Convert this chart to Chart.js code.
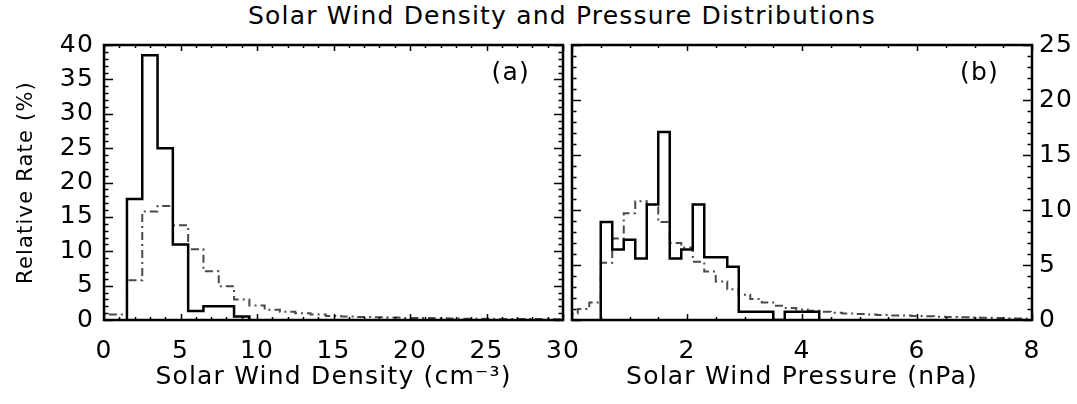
<!DOCTYPE html>
<html>
<head>
<meta charset="utf-8">
<script src="https://cdn.jsdelivr.net/npm/chart.js@4.4.0/dist/chart.umd.min.js"></script>
<style>
body { margin: 0; background: #fff; width: 1077px; height: 404px; position: relative; overflow: hidden; font-family: "DejaVu Sans", sans-serif; }
#title { position: absolute; top: 1px; left: 562px; transform: translateX(-50%); font-size: 25px; letter-spacing: 1.2px; white-space: nowrap; color: #000; }
#c1 { position: absolute; left: 0; top: 0; }
#c2 { position: absolute; left: 567px; top: 0; }
</style>
</head>
<body>
<div id="title">Solar Wind Density and Pressure Distributions</div>
<canvas id="c1" width="600" height="404"></canvas>
<canvas id="c2" width="510" height="404"></canvas>
<script>
// density histogram (a): bin centres, width 1 cm^-3
const densityBinsSolid = [2, 3, 4, 5, 6, 7, 8, 9];
const densitySolid = [17.6, 38.5, 25.0, 11.0, 1.3, 2.0, 2.0, 0.5];
const densityBinsAll = [0, 1, 2, 3, 4, 5, 6, 7, 8, 9, 10, 11, 12, 13, 14, 15, 16, 17, 18, 19, 20,
                        21, 22, 23, 24, 25, 26, 27, 28, 29, 30];
const densityAll = [0.8, 0.8, 5.8, 15.8, 16.6, 13.8, 10.3, 7.1, 4.9, 3.0, 2.1, 1.5, 1.2, 1.0, 0.8, 0.6,
                    0.5, 0.45, 0.4, 0.35, 0.3, 0.28, 0.25, 0.22, 0.2, 0.18, 0.16, 0.15, 0.13, 0.12, 0.1];

// pressure histogram (b): bin centres, width 0.2 nPa
const pressureBinsSolid = [0.6, 0.8, 1.0, 1.2, 1.4, 1.6, 1.8, 2.0, 2.2, 2.4, 2.6, 2.8, 3.0, 3.2, 3.4,
                           3.6, 3.8, 4.0, 4.2];
const pressureSolid = [8.9, 6.4, 7.3, 5.6, 10.5, 17.1, 5.6, 6.4, 10.5, 5.7, 5.7, 4.85, 0.76, 0.76, 0.76,
                       0, 0.76, 0.76, 0.76];
const pressureBinsAll = [0.0, 0.2, 0.4, 0.6, 0.8, 1.0, 1.2, 1.4, 1.6, 1.8, 2.0, 2.2, 2.4, 2.6, 2.8, 3.0,
                         3.2, 3.4, 3.6, 3.8, 4.0, 4.2, 4.4, 4.6, 4.8, 5.0, 5.2, 5.4, 5.6, 5.8, 6.0,
                         6.2, 6.4, 6.6, 6.8, 7.0, 7.2, 7.4, 7.6, 7.8, 8.0];
const pressureAll = [0.6, 1.0, 1.6, 5.2, 7.4, 9.7, 10.8, 10.5, 8.9, 7.0, 6.6, 5.3, 4.4, 3.5, 2.8, 2.3,
                     1.9, 1.6, 1.3, 1.1, 0.95, 0.85, 0.75, 0.65, 0.6, 0.55, 0.5, 0.45, 0.42, 0.4, 0.36,
                     0.33, 0.3, 0.27, 0.25, 0.22, 0.2, 0.18, 0.16, 0.14, 0.12];

// tick labels
const densityTicks = [0, 5, 10, 15, 20, 25, 30];
const rateTicksA = [0, 5, 10, 15, 20, 25, 30, 35, 40];
const pressureTicks = [2, 4, 6, 8];
const rateTicksB = [0, 5, 10, 15, 20, 25];

const FONT = '"DejaVu Sans", sans-serif';

// turn bin centres + values into a step outline
const histPoints = function(centres, values, width) {
    const pts = [{x: centres[0] - width / 2, y: 0}];
    centres.forEach((c, i) => pts.push({x: c + width / 2, y: values[i]}));
    pts.push({x: centres[centres.length - 1] + width / 2, y: 0});
    return pts;
};

// IDL style box with inward ticks on all four sides + panel label
const boxTicks = {
    id: 'boxTicks',
    beforeDraw(chart) {
        chart.ctx.letterSpacing = '1.2px';
    },
    afterDatasetsDraw(chart, args, o) {
        const {ctx, chartArea: a} = chart;
        const x = chart.scales.x, y = chart.scales.y;
        const isMajor = (v, step) => Math.abs(v / step - Math.round(v / step)) < 1e-6;
        ctx.save();
        ctx.strokeStyle = '#000';
        ctx.lineWidth = 1.5;
        ctx.beginPath();
        for (let v = x.min; v <= x.max + 1e-9; v += o.xMinor) {
            const px = Math.round(x.getPixelForValue(v)) + 0.5;
            const len = isMajor(v, o.xMajor) ? 6 : 3;
            ctx.moveTo(px, a.bottom); ctx.lineTo(px, a.bottom - len);
            ctx.moveTo(px, a.top); ctx.lineTo(px, a.top + len);
        }
        for (let v = y.min; v <= y.max + 1e-9; v += o.yMinor) {
            const py = Math.round(y.getPixelForValue(v)) + 0.5;
            const len = isMajor(v, o.yMajor) ? 9 : 4.5;
            ctx.moveTo(a.left, py); ctx.lineTo(a.left + len, py);
            ctx.moveTo(a.right, py); ctx.lineTo(a.right - len, py);
        }
        ctx.stroke();
        ctx.lineWidth = 2.5;
        ctx.strokeRect(a.left, a.top, a.width, a.height);
        ctx.fillStyle = '#000';
        ctx.font = '25px ' + FONT;
        ctx.textAlign = 'right';
        ctx.textBaseline = 'middle';
        ctx.fillText(o.label, a.right - 33, a.top + 28);
        ctx.restore();
    }
};

const makeChart = function(id, cfg) {
    return new Chart(document.getElementById(id), {
        type: 'line',
        data: {
            datasets: [{
                data: histPoints(cfg.binsSolid, cfg.solid, cfg.width),
                borderColor: '#000',
                borderWidth: 2.5,
                stepped: 'after',
                pointRadius: 0,
                fill: false,
            }, {
                data: histPoints(cfg.binsAll, cfg.all, cfg.width),
                borderColor: '#4a4a4a',
                borderWidth: 2,
                borderDash: [8, 4, 2, 4],
                stepped: 'after',
                pointRadius: 0,
                fill: false,
            }]
        },
        options: {
            responsive: false,
            animation: false,
            layout: {padding: cfg.padding},
            plugins: {
                legend: {display: false},
                tooltip: {enabled: false},
                boxTicks: cfg.box,
            },
            scales: {
                x: {
                    type: 'linear',
                    min: cfg.xMin,
                    max: cfg.xMax,
                    afterBuildTicks: s => { s.ticks = cfg.xTicks.map(v => ({value: v})); },
                    afterFit: s => { s.height = 84; s.paddingLeft = 0; s.paddingRight = 0; },
                    grid: {display: false, drawTicks: false},
                    border: {display: false},
                    ticks: {
                        autoSkip: false, maxRotation: 0, padding: 16, color: '#000',
                        font: {family: FONT, size: 25},
                    },
                    title: {
                        display: true, text: cfg.xTitle, color: '#000',
                        font: {family: FONT, size: 25},
                        padding: {top: 0, bottom: 12},
                    },
                },
                y: {
                    type: 'linear',
                    position: cfg.yPos,
                    min: cfg.yMin,
                    max: cfg.yMax,
                    afterBuildTicks: s => { s.ticks = cfg.yTicks.map(v => ({value: v})); },
                    afterFit: s => { s.width = cfg.yWidth; s.paddingTop = 0; s.paddingBottom = 0; },
                    grid: {display: false, drawTicks: false},
                    border: {display: false},
                    ticks: {
                        autoSkip: false, padding: cfg.yPad, color: '#000',
                        font: {family: FONT, size: 25},
                    },
                    title: {
                        display: !!cfg.yTitle, text: cfg.yTitle || '', color: '#000',
                        font: {family: FONT, size: 21},
                        padding: {top: 14, bottom: 4},
                    },
                },
            },
        },
        plugins: [boxTicks],
    });
};

makeChart('c1', {
    binsSolid: densityBinsSolid, solid: densitySolid,
    binsAll: densityBinsAll, all: densityAll, width: 1,
    xMin: 0, xMax: 30, xTicks: densityTicks,
    yMin: 0, yMax: 40, yTicks: rateTicksA, yPos: 'left', yWidth: 104, yPad: 10,
    xTitle: 'Solar Wind Density (cm\u207B\u00B3)',
    yTitle: 'Relative Rate (%)',
    padding: {top: 45, right: 37, left: 0, bottom: 0},
    box: {xMinor: 1, xMajor: 5, yMinor: 1, yMajor: 5, label: '(a)'},
});

makeChart('c2', {
    binsSolid: pressureBinsSolid, solid: pressureSolid,
    binsAll: pressureBinsAll, all: pressureAll, width: 0.2,
    xMin: 0, xMax: 8, xTicks: pressureTicks,
    yMin: 0, yMax: 25, yTicks: rateTicksB, yPos: 'right', yWidth: 45, yPad: 7,
    xTitle: 'Solar Wind Pressure (nPa)',
    padding: {top: 45, right: 0, left: 5, bottom: 0},
    box: {xMinor: 0.5, xMajor: 2, yMinor: 1, yMajor: 5, label: '(b)'},
});
</script>
</body>
</html>
